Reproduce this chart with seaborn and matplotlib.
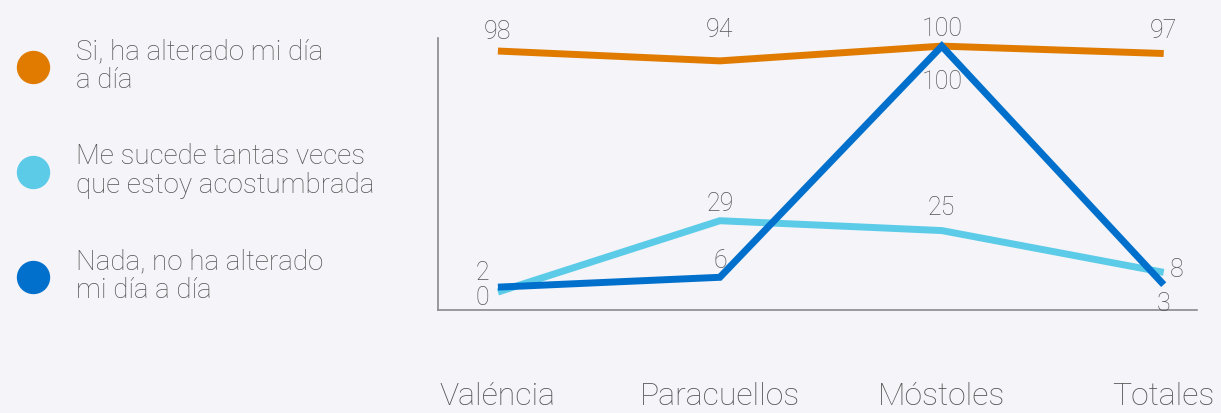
import matplotlib
matplotlib.use("Agg")
import matplotlib.pyplot as plt
import seaborn as sns
import pandas as pd
from matplotlib.lines import Line2D
from matplotlib import font_manager

# ---- data ----
categories = ["Valéncia", "Paracuellos", "Móstoles", "Totales"]
series_names = [
    "Si, ha alterado mi día\na día",
    "Me sucede tantas veces\nque estoy acostumbrada",
    "Nada, no ha alterado\nmi día a día",
]
si_altera = [98, 94, 100, 97]
acostumbrada = [0, 29, 25, 8]
nada = [2, 6, 100, 3]
colors = ["#E07B00", "#5BCBE8", "#0070CC"]

values = [si_altera, acostumbrada, nada]
rows = []
for name, vals in zip(series_names, values):
    for i, (c, v) in enumerate(zip(categories, vals)):
        rows.append({"cat": c, "x": i, "serie": name, "valor": v})
df = pd.DataFrame(rows)

sns.set_theme(style="white")
bg = "#F4F4F9"
names = {f.name for f in font_manager.fontManager.ttflist}
base_font = "Roboto" if "Roboto" in names else "DejaVu Sans"
plt.rcParams["font.family"] = [base_font, "DejaVu Sans"]
text_color = "#555555"

fig = plt.figure(figsize=(12.21, 4.13), dpi=100, facecolor=bg)
ax = fig.add_axes([438 / 1221, 1 - 310 / 413, (1197 - 438) / 1221, (310 - 38) / 413])
ax.set_facecolor(bg)

sns.lineplot(data=df, x="x", y="valor", hue="serie", palette=colors,
             hue_order=series_names, linewidth=5, ax=ax, legend=False,
             sort=False)
for ln in ax.get_lines():
    ln.set_solid_capstyle("butt")
    ln.set_solid_joinstyle("miter")

ax.set_xlim(-0.27, 3.15)
ax.set_ylim(-7.3, 103.3)
ax.set_xticks(range(len(categories)))
ax.set_xticklabels(categories, fontsize=23, color=text_color, fontweight="light")
ax.set_yticks([])
ax.set_xlabel("")
ax.set_ylabel("")
ax.tick_params(axis="x", length=0, pad=52)
for s in ["top", "right"]:
    ax.spines[s].set_visible(False)
for s in ["left", "bottom"]:
    ax.spines[s].set_color("#8a8a8e")
    ax.spines[s].set_linewidth(1.2)

# ---- data labels (offsets in points) ----
offsets = [
    [(0, 14, "center"), (0, 22, "center"), (0, 12, "center"), (0, 16, "center")],
    [(-6, -4, "right"), (0, 12, "center"), (0, 16, "center"), (4, 2, "left")],
    [(-6, 10, "right"), (0, 12, "center"), (0, -26, "center"), (0, -14, "center")],
]
for vals, offs in zip(values, offsets):
    for i, (v, (dx, dy, ha)) in enumerate(zip(vals, offs)):
        ax.annotate(str(v), (i, v), xytext=(dx, dy), textcoords="offset points",
                    ha=ha, va="center", fontsize=18, color=text_color,
                    fontweight="light")

# ---- legend ----
handles = [Line2D([0], [0], marker="o", linestyle="", markersize=23,
                  markerfacecolor=c, markeredgecolor=c) for c in colors]
leg = fig.legend(handles, series_names, loc="upper left",
                 bbox_to_anchor=(0.0, 0.935), frameon=False, fontsize=20,
                 labelspacing=1.76, handletextpad=0.75, borderaxespad=0,
                 handlelength=1.6, borderpad=0.4)
for t in leg.get_texts():
    t.set_color(text_color)
    t.set_fontweight("light")
    t.set_linespacing(1.1)

fig.savefig("out.png", dpi=100, facecolor=bg)
